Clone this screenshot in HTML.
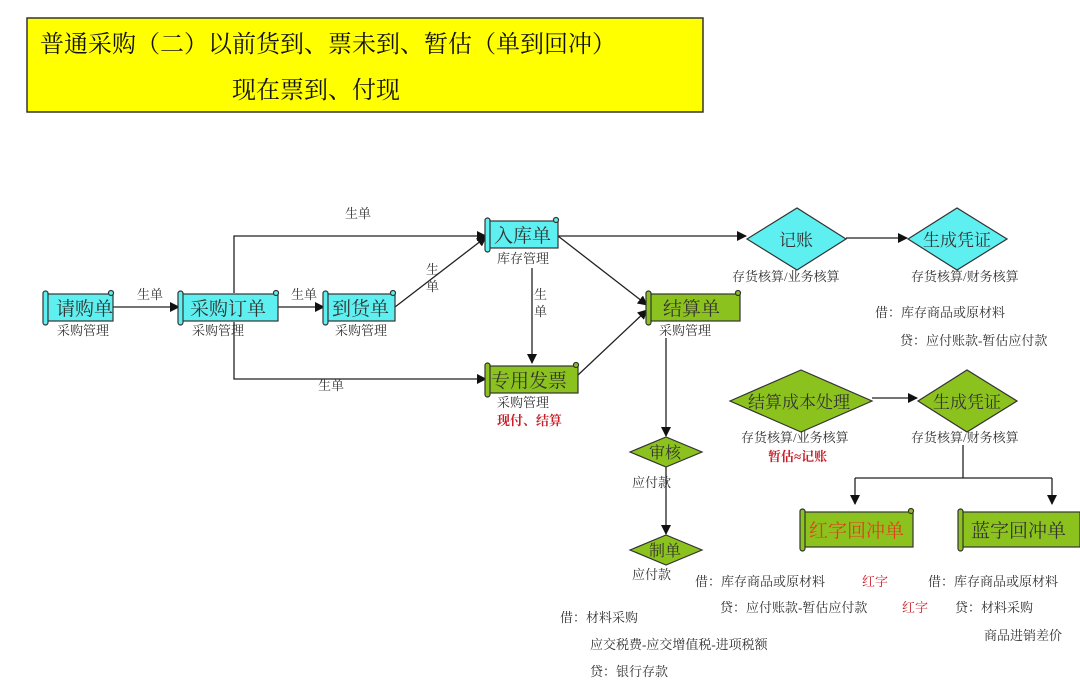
<!DOCTYPE html>
<html><head><meta charset="utf-8"><style>
html,body{margin:0;padding:0;background:#fff;}
svg{display:block;font-family:"Liberation Serif","Noto Serif CJK SC","Noto Sans CJK SC",serif;}
.l{font-size:13px;fill:#333;}
.n{font-size:19px;fill:#333;}
.r{font-size:13px;fill:#c8202a;}
</style></head><body>
<svg width="1080" height="692" viewBox="0 0 1080 692" xmlns="http://www.w3.org/2000/svg">
<defs>
<marker id="a" markerWidth="10" markerHeight="10" refX="9" refY="5" orient="auto" markerUnits="userSpaceOnUse"><path d="M0,0 L10,5 L0,10 z" fill="#111"/></marker>
</defs>
<rect x="27" y="18" width="676" height="94" fill="#ffff00" stroke="#333" stroke-width="1.5"/>
<text x="40" y="52" font-size="24" fill="#111">普通采购（二）以前货到、票未到、暂估（单到回冲）</text>
<text x="232" y="98" font-size="24" fill="#111">现在票到、付现</text>

<g stroke="#222" stroke-width="1.3" fill="none">
<line x1="113" y1="307" x2="179" y2="307" marker-end="url(#a)"/>
<line x1="278" y1="307" x2="324" y2="307" marker-end="url(#a)"/>
<polyline points="234,293 234,236 486,236" marker-end="url(#a)"/>
<polyline points="234,322 234,379 486,379" marker-end="url(#a)"/>
<line x1="395" y1="307" x2="486" y2="237" marker-end="url(#a)"/>
<line x1="532" y1="268" x2="532" y2="363" marker-end="url(#a)"/>
<line x1="558" y1="236" x2="647" y2="305" marker-end="url(#a)"/>
<line x1="578" y1="375" x2="647" y2="310" marker-end="url(#a)"/>
<line x1="558" y1="236" x2="746" y2="236" marker-end="url(#a)"/>
<line x1="846" y1="238" x2="907" y2="238" marker-end="url(#a)"/>
<line x1="872" y1="398" x2="917" y2="398" marker-end="url(#a)"/>
<line x1="666" y1="338" x2="666" y2="436" marker-end="url(#a)"/>
<line x1="666" y1="467" x2="666" y2="534" marker-end="url(#a)"/>
<polyline points="963,445 963,478"/>
<polyline points="855,478 1052,478"/>
<line x1="855" y1="478" x2="855" y2="504" marker-end="url(#a)"/>
<line x1="1052" y1="478" x2="1052" y2="504" marker-end="url(#a)"/>
</g>

<!-- scrolls -->
<g stroke="#333" stroke-width="1.2">
<g fill="#5ef0f0">
<rect x="45" y="294" width="68" height="27"/><rect x="43" y="291" width="5" height="34" rx="2.5"/><circle cx="111" cy="293" r="2.5"/>
<rect x="180" y="294" width="98" height="27"/><rect x="178" y="291" width="5" height="34" rx="2.5"/><circle cx="276" cy="293" r="2.5"/>
<rect x="325" y="294" width="70" height="27"/><rect x="323" y="291" width="5" height="34" rx="2.5"/><circle cx="393" cy="293" r="2.5"/>
<rect x="487" y="221" width="71" height="27"/><rect x="485" y="218" width="5" height="34" rx="2.5"/><circle cx="556" cy="220" r="2.5"/>
</g>
<g fill="#8cc21e">
<rect x="487" y="366" width="91" height="27"/><rect x="485" y="363" width="5" height="34" rx="2.5"/><circle cx="576" cy="365" r="2.5"/>
<rect x="648" y="294" width="92" height="27"/><rect x="646" y="291" width="5" height="34" rx="2.5"/><circle cx="738" cy="293" r="2.5"/>
<rect x="802" y="512" width="111" height="35"/><rect x="800" y="509" width="5" height="42" rx="2.5"/><circle cx="911" cy="511" r="2.5"/>
<rect x="960" y="512" width="120" height="35"/><rect x="958" y="509" width="5" height="42" rx="2.5"/>
</g>
<g fill="#5ef0f0">
<polygon points="747,239 797,208 846,239 797,270"/>
<polygon points="908,239 957,208 1007,239 957,270"/>
</g>
<g fill="#8cc21e">
<polygon points="730,401 801,370 872,401 801,432"/>
<polygon points="918,401 967,370 1017,401 967,432"/>
<polygon points="630,452 666,437 702,452 666,467"/>
<polygon points="630,550 666,535 702,550 666,565"/>
</g>
</g>

<g class="n">
<text x="56" y="315">请购单</text>
<text x="190" y="315">采购订单</text>
<text x="332" y="315">到货单</text>
<text x="494" y="242">入库单</text>
<text x="491" y="387">专用发票</text>
<text x="663" y="315">结算单</text>
<text x="779" y="246" font-size="17">记账</text>
<text x="923" y="246" font-size="17">生成凭证</text>
<text x="748" y="408" font-size="17">结算成本处理</text>
<text x="933" y="408" font-size="17">生成凭证</text>
<text x="649" y="458" font-size="16">审核</text>
<text x="649" y="556" font-size="16">制单</text>
<text x="809" y="537" fill="#e0401a">红字回冲单</text>
<text x="971" y="537">蓝字回冲单</text>
</g>

<g class="l">
<text x="57" y="335">采购管理</text>
<text x="192" y="335">采购管理</text>
<text x="335" y="335">采购管理</text>
<text x="497" y="263">库存管理</text>
<text x="497" y="407">采购管理</text>
<text x="659" y="335">采购管理</text>
<text x="137" y="299">生单</text>
<text x="291" y="299">生单</text>
<text x="345" y="218">生单</text>
<text x="318" y="390">生单</text>
<text x="426" y="274">生</text><text x="426" y="291">单</text>
<text x="534" y="299">生</text><text x="534" y="316">单</text>
<text x="732" y="281">存货核算/业务核算</text>
<text x="911" y="281">存货核算/财务核算</text>
<text x="875" y="317">借：库存商品或原材料</text>
<text x="900" y="345">贷：应付账款-暂估应付款</text>
<text x="741" y="442">存货核算/业务核算</text>
<text x="911" y="442">存货核算/财务核算</text>
<text x="632" y="487">应付款</text>
<text x="632" y="579">应付款</text>
<text x="695" y="586">借：库存商品或原材料</text>
<text x="720" y="612">贷：应付账款-暂估应付款</text>
<text x="928" y="586">借：库存商品或原材料</text>
<text x="955" y="612">贷：材料采购</text>
<text x="984" y="640">商品进销差价</text>
<text x="560" y="622">借：材料采购</text>
<text x="590" y="649">应交税费-应交增值税-进项税额</text>
<text x="590" y="676">贷：银行存款</text>
</g>
<g class="r">
<text x="497" y="425" font-weight="bold">现付、结算</text>
<text x="768" y="461" font-weight="bold">暂估≈记账</text>
<text x="862" y="586">红字</text>
<text x="902" y="612">红字</text>
</g>
</svg>
</body></html>
